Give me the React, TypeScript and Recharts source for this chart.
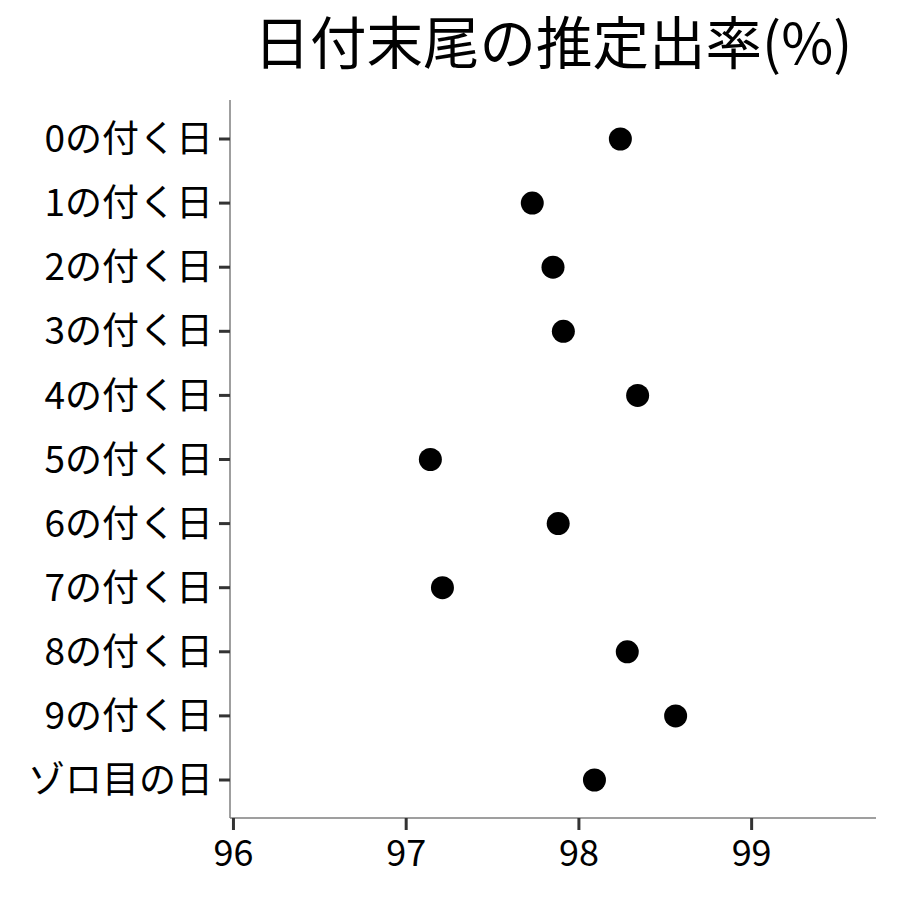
import React from 'react';
import { ScatterChart, Scatter, XAxis, YAxis } from 'recharts';

const labels = [
  '0の付く日', '1の付く日', '2の付く日', '3の付く日', '4の付く日',
  '5の付く日', '6の付く日', '7の付く日', '8の付く日', '9の付く日', 'ゾロ目の日',
];
const rates = [98.24, 97.73, 97.85, 97.91, 98.34, 97.14, 97.88, 97.21, 98.28, 98.56, 98.09];
const xTicks = [96, 97, 98, 99];

const data = labels.map((label, i) => ({ label, rate: rates[i] }));

const FONT = '"Noto Sans CJK JP", "Noto Sans", sans-serif';

const Dot = (props: any) => <circle cx={props.cx} cy={props.cy} r={11.5} fill="#000" />;

const App: React.FC = () => {
  return (
    <div style={{ position: 'absolute', left: 0, top: 0, width: 900, height: 900, background: '#fff', fontFamily: FONT }}>
      <ScatterChart width={900} height={900} margin={{ top: 100, right: 24, bottom: 0, left: 0 }}>
        <text x={553} y={64} textAnchor="middle" fontSize={56.5} fontFamily={FONT} fill="#000">
          日付末尾の推定出率(%)
        </text>
        <XAxis
          type="number"
          dataKey="rate"
          domain={[95.98, 99.72]}
          ticks={xTicks}
          allowDataOverflow
          height={82}
          tickSize={12}
          tickMargin={10}
          axisLine={{ stroke: '#7f7f7f', strokeWidth: 1.5 }}
          tickLine={{ stroke: '#333', strokeWidth: 3 }}
          tick={{ fill: '#000', fontSize: 36, fontFamily: FONT }}
        />
        <YAxis
          type="category"
          dataKey="label"
          scale="point"
          reversed
          width={230}
          padding={{ top: 39, bottom: 38 }}
          tickSize={11}
          tickMargin={6}
          axisLine={{ stroke: '#7f7f7f', strokeWidth: 1.5 }}
          tickLine={{ stroke: '#333', strokeWidth: 3 }}
          tick={{ fill: '#000', fontSize: 37, fontFamily: FONT }}
          interval={0}
        />
        <Scatter data={data} shape={Dot} isAnimationActive={false} />
      </ScatterChart>
    </div>
  );
};

export default App;
